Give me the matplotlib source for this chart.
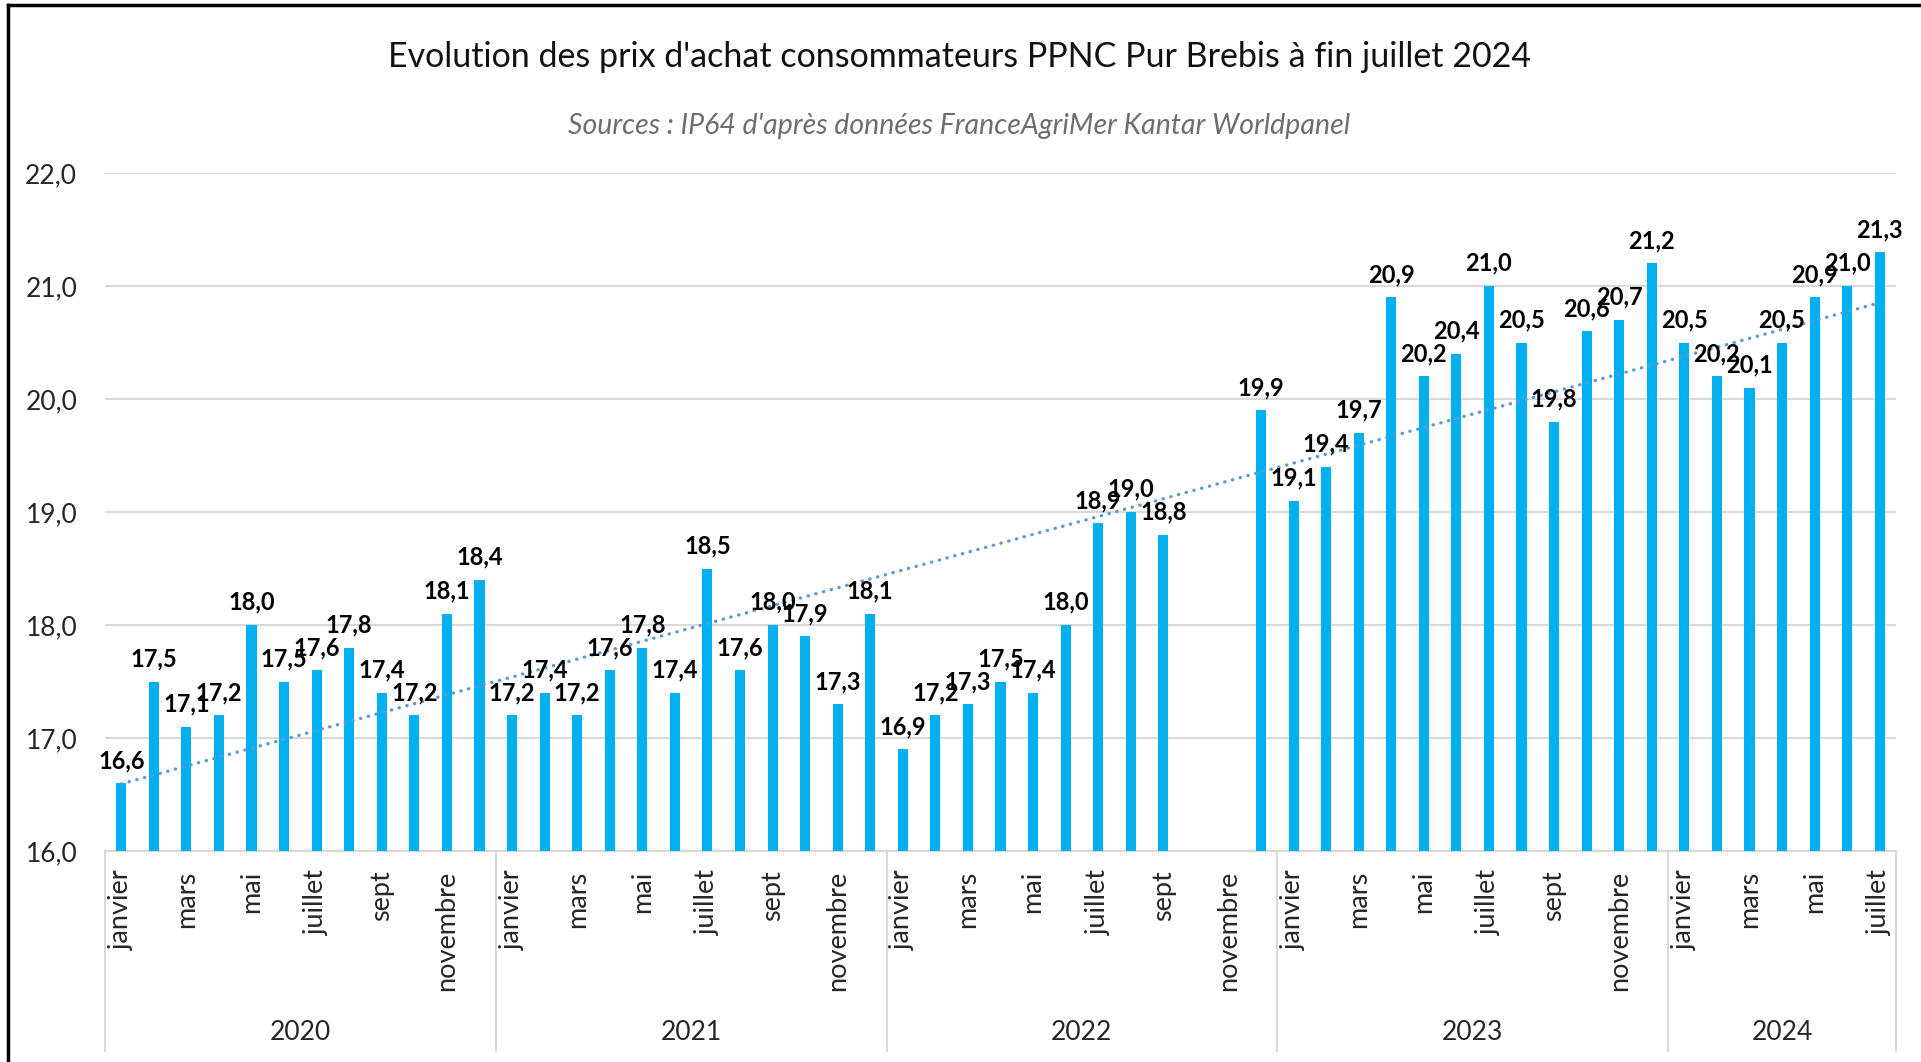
import numpy as np
import matplotlib
matplotlib.use("Agg")
import matplotlib.pyplot as plt
from matplotlib.lines import Line2D

plt.rcParams['font.family'] = ['Lato', 'DejaVu Sans']

years = ["2020", "2021", "2022", "2023", "2024"]
months = ["janvier", "février", "mars", "avril", "mai", "juin", "juillet",
          "août", "sept", "octobre", "novembre", "décembre"]
months_shown = ["janvier", "mars", "mai", "juillet", "sept", "novembre"]

v2020 = [16.6, 17.5, 17.1, 17.2, 18.0, 17.5, 17.6, 17.8, 17.4, 17.2, 18.1, 18.4]
v2021 = [17.2, 17.4, 17.2, 17.6, 17.8, 17.4, 18.5, 17.6, 18.0, 17.9, 17.3, 18.1]
v2022 = [16.9, 17.2, 17.3, 17.5, 17.4, 18.0, 18.9, 19.0, 18.8, np.nan, np.nan, 19.9]
v2023 = [19.1, 19.4, 19.7, 20.9, 20.2, 20.4, 21.0, 20.5, 19.8, 20.6, 20.7, 21.2]
v2024 = [20.5, 20.2, 20.1, 20.5, 20.9, 21.0, 21.3]

series = [v2020, v2021, v2022, v2023, v2024]
values = np.array([v for s in series for v in s], dtype=float)
cat_months = [months[i] for s in series for i in range(len(s))]
cat_labels = [m if m in months_shown else "" for m in cat_months]
year_sizes = [len(s) for s in series]

W, H = 1921, 1062
fig = plt.figure(figsize=(W / 100, H / 100), dpi=100)
ax = fig.add_axes([105 / W, 1 - 851 / H, (1896 - 105) / W, (851 - 173) / H])

x = np.arange(len(values))
mask = ~np.isnan(values)
ax.bar(x[mask], values[mask], width=0.31, color="#00B0F0", zorder=3)

# linear trendline
coef = np.polyfit(x[mask], values[mask], 1)
xt = np.array([x[0], x[-1]])
ax.plot(xt, np.polyval(coef, xt), color="#5B9BD5", lw=2.4,
        linestyle=(0, (0.1, 2.3)), dash_capstyle="round", zorder=4)

# data labels
for xi, v in zip(x[mask], values[mask]):
    ax.annotate(f"{v:.1f}".replace(".", ","), (xi, v), xytext=(0, 8),
                textcoords="offset points", ha="center", va="bottom",
                fontsize=17, fontweight="bold", color="#000000", zorder=5)

ax.set_xlim(-0.5, len(values) - 0.5)
ax.set_ylim(16, 22)
ax.set_yticks(np.arange(16, 22.01, 1))
ax.set_yticklabels([f"{t:.1f}".replace(".", ",") for t in np.arange(16, 22.01, 1)],
                   fontsize=19, color="#262626")
ax.yaxis.grid(True, color="#D9D9D9", lw=1.5, zorder=0)
ax.set_axisbelow(True)
for s in ["top", "right", "left"]:
    ax.spines[s].set_visible(False)
ax.spines["bottom"].set_color("#D9D9D9")
ax.spines["bottom"].set_linewidth(1.5)
ax.tick_params(axis="y", length=0, pad=20)
ax.set_xticks(x)
ax.set_xticklabels(cat_labels, rotation=90, fontsize=19.5, color="#262626", va="top")
ax.tick_params(axis="x", length=0, pad=14)

# year groups
trans = ax.get_xaxis_transform()
ax_h = 851 - 173
y_year = (851 - 1033) / ax_h
y_sep = (851 - 1051) / ax_h
start = 0
bounds = [-0.5]
for yr, n in zip(years, year_sizes):
    ax.text(start + (n - 1) / 2, y_year, yr, transform=trans, ha="center", va="center",
            fontsize=19, color="#262626")
    start += n
    bounds.append(start - 0.5)
for b in bounds:
    ax.add_line(Line2D([b, b], [0, y_sep], transform=trans, color="#D9D9D9", lw=1.5,
                       clip_on=False))

fig.text(959 / W, 1 - 57 / H, "Evolution des prix d'achat consommateurs PPNC Pur Brebis à fin juillet 2024",
         ha="center", va="center", fontsize=24.5, color="#111111")
fig.text(959 / W, 1 - 126 / H, "Sources : IP64 d'après données FranceAgriMer Kantar Worldpanel",
         ha="center", va="center", fontsize=20.5, style="italic", color="#6E6E6E")

# frame
fig.add_artist(Line2D([8 / W, 1], [1 - 5 / H, 1 - 5 / H], transform=fig.transFigure, color="black", lw=2.5))
fig.add_artist(Line2D([8 / W, 8 / W], [0, 1 - 5 / H], transform=fig.transFigure, color="black", lw=2.5))

fig.savefig("out.png", dpi=100)
